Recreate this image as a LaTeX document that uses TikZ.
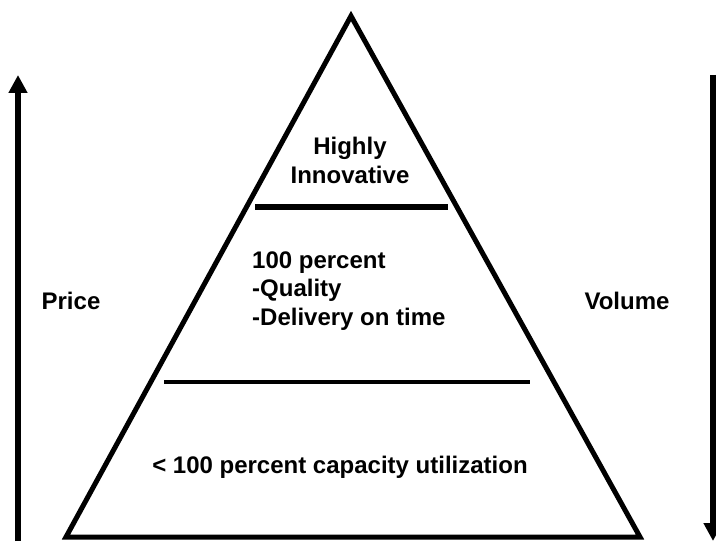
\documentclass[tikz,border=0pt]{standalone}
\usepackage{fontspec}
\setmainfont{Liberation Sans}
\usepackage{tikz}
\usetikzlibrary{arrows.meta}

\begin{document}
\begin{tikzpicture}[x=1pt,y=-1pt,
        lbl/.style={inner sep=0pt, font=\fontsize{24}{28.5}\selectfont\bfseries},
        bigarrow/.style={line width=6pt, -{Triangle[width=18pt,length=18pt]}}]
        \useasboundingbox (0,0) rectangle (716,543);

        \coordinate (base1) at (66,537) ;
        \coordinate (base2) at (640,537) ;
        \coordinate (apex) at (351,16) ;
        \draw[line width=5pt, line join=miter] (base1) -- (base2) -- (apex) -- cycle ;

        \coordinate (t1) at (255,207) ;
        \coordinate (t2) at (448,207) ;
        \coordinate (m1) at (164,382) ;
        \coordinate (m2) at (530,382) ;
        \draw[line width=6pt] (t1) -- (t2) ;
        \draw[line width=4pt] (m1) -- (m2) ;

        \node[lbl, align=center, anchor=base] (top) at (350,183) {Highly\\Innovative} ;
        \node[lbl, align=left, anchor=base west] (mid) at (252,325) {100 percent\\-Quality\\-Delivery on time} ;
        \node[lbl, anchor=base] (low) at (340,473) {< 100 percent capacity utilization} ;
        \node[lbl, anchor=base] (price) at (71,309) {Price} ;
        \node[lbl, anchor=base] (volume) at (627,309) {Volume} ;

        \coordinate (pbot) at (18,541) ;
        \coordinate (ptop) at (18,75) ;
        \coordinate (vtop) at (713,75) ;
        \coordinate (vbot) at (713,541) ;
        \draw[bigarrow] (pbot) -- (ptop) ;
        \draw[bigarrow] (vtop) -- (vbot) ;
    \end{tikzpicture}
\end{document}
